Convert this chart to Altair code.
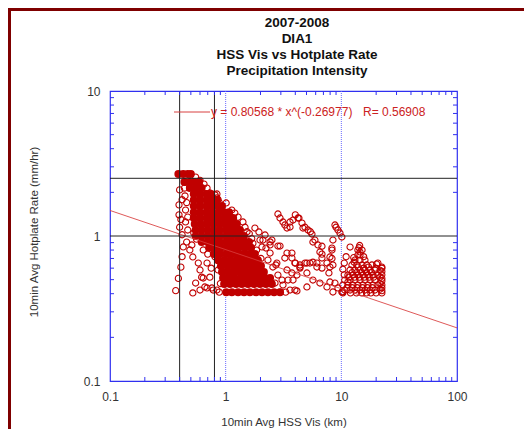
import altair as alt
import pandas as pd

FONT = "Liberation Sans"
RED = "#c00000"
BLUE = "#3030f0"

# ---------------- text ----------------
title_lines = ["2007-2008", "DIA1", "HSS Vis vs Hotplate Rate", "Precipitation Intensity"]
x_title = "10min Avg HSS Vis (km)"
y_title = "10min Avg Hotplate Rate (mm/hr)"
fit_label = "y = 0.80568 * x^(-0.26977)"
r_label = "R= 0.56908"

# ---------------- axes ----------------
x_tick_labels = [0.1, 1, 10, 100]
y_tick_labels = [0.1, 1, 10]
x_minor = [0.2, 0.3, 0.4, 0.5, 0.6, 0.7, 0.8, 0.9, 2, 3, 4, 5, 6, 7, 8, 9,
           20, 30, 40, 50, 60, 70, 80, 90]
y_minor = [0.2, 0.3, 0.4, 0.5, 0.6, 0.7, 0.8, 0.9, 2, 3, 4, 5, 6, 7, 8, 9]

# reference lines
black_vx = [0.4, 0.8]
black_hy = [2.5, 1.0]
blue_vx = [1, 10]

# fitted power law (end points)
fit_x = [0.1, 100]
fit_y = [1.500, 0.2325]

# ---------------- data: dense core (rows of equal rate) ----------------
dense_y = [2.68, 2.36, 2.14, 1.95, 1.77, 1.61, 1.46, 1.33, 1.21, 1.10, 1.00,
           0.91, 0.83, 0.75, 0.68, 0.62, 0.565, 0.513, 0.467, 0.41]
dense_x = [
    [0.39, 0.43, 0.47, 0.50],
    [0.44, 0.49, 0.54, 0.59],
    [0.49, 0.55, 0.62],
    [0.53, 0.60, 0.68, 0.75],
    [0.53, 0.60, 0.68, 0.76, 0.84],
    [0.53, 0.60, 0.68, 0.76, 0.86, 0.93],
    [0.53, 0.60, 0.68, 0.76, 0.86, 0.97, 1.07],
    [0.53, 0.60, 0.68, 0.76, 0.86, 0.97, 1.09, 1.16],
    [0.54, 0.61, 0.69, 0.78, 0.88, 0.99, 1.11, 1.25],
    [0.55, 0.62, 0.70, 0.79, 0.89, 1.01, 1.13, 1.23, 1.33],
    [0.55, 0.62, 0.70, 0.79, 0.89, 1.01, 1.13, 1.28, 1.44],
    [0.62, 0.70, 0.79, 0.89, 1.01, 1.13, 1.28, 1.44, 1.59],
    [0.72, 0.81, 0.91, 1.03, 1.16, 1.30, 1.47, 1.66],
    [0.79, 0.89, 1.01, 1.13, 1.28, 1.44, 1.62, 1.79],
    [0.86, 0.97, 1.09, 1.23, 1.38, 1.56, 1.76, 1.90],
    [0.91, 1.03, 1.16, 1.30, 1.47, 1.66, 1.87, 2.02],
    [0.93, 1.05, 1.18, 1.33, 1.50, 1.69, 1.90, 2.14],
    [0.95, 1.07, 1.20, 1.36, 1.53, 1.72, 1.94, 2.19, 2.42],
    [0.97, 1.09, 1.23, 1.38, 1.56, 1.76, 1.98, 2.23, 2.51],
    [1.01, 1.13, 1.28, 1.44, 1.62, 1.83, 2.06, 2.32, 2.62, 2.95],
]

# ---------------- data: scattered observations ----------------
left_pts = [
    (0.40, 2.08), (0.395, 1.64), (0.395, 1.40), (0.40, 1.15), (0.42, 1.02), (0.43, 0.84),
    (0.42, 0.72), (0.41, 0.61), (0.39, 0.51), (0.37, 0.42),
    (0.44, 2.14), (0.445, 1.89), (0.45, 1.51), (0.45, 1.25), (0.47, 1.10), (0.42, 1.78),
    (0.41, 1.30), (0.46, 1.70), (0.47, 1.35),
    (0.55, 2.55), (0.60, 2.42), (0.65, 2.28), (0.60, 2.18), (0.69, 2.14), (0.73, 1.98),
    (0.81, 1.92), (0.84, 1.95), (0.84, 1.83), (0.86, 1.78), (0.88, 1.70),
    (0.52, 0.405), (0.60, 0.424), (0.69, 0.438), (0.78, 0.424), (0.84, 0.424),
    (0.64, 0.513), (0.60, 0.583), (0.58, 0.651), (0.52, 0.717), (0.49, 0.801),
    (0.46, 0.909), (0.51, 0.867), (0.64, 0.801), (0.69, 0.651), (0.73, 0.52),
    (0.81, 0.717), (0.86, 0.583), (0.66, 0.445), (0.76, 0.438), (0.62, 0.52),
    (0.55, 0.474), (0.88, 0.41), (0.90, 0.47), (0.75, 0.60), (0.70, 0.75),
    (0.56, 0.95), (0.53, 1.05),
]
edge_pts = [
    (1.01, 1.69), (1.13, 1.51), (1.20, 1.44), (1.28, 1.35), (1.41, 1.25), (1.47, 1.15),
    (1.53, 1.07), (1.60, 1.04), (1.68, 0.96), (1.72, 0.89), (1.85, 0.80), (2.02, 0.70),
    (1.79, 1.135), (1.94, 1.066), (2.19, 1.016), (2.51, 0.938), (2.10, 0.938), (2.23, 0.826),
    (2.95, 0.853), (2.42, 0.763), (2.32, 0.683), (2.56, 0.611), (2.42, 0.867), (2.06, 0.84),
    (2.42, 0.91), (2.83, 0.853), (1.98, 0.938),
    (3.25, 0.705), (3.39, 0.583), (3.74, 0.763), (3.74, 0.556), (4.13, 0.538), (4.39, 0.611),
    (5.04, 0.556), (3.82, 0.497), (3.60, 0.424), (4.13, 0.418), (3.07, 0.497), (5.04, 0.445),
    (5.68, 0.497), (6.53, 0.474), (7.51, 0.445), (8.46, 0.411), (9.35, 0.438), (10.1, 0.411),
    (2.83, 0.538), (3.13, 0.459), (2.95, 0.41), (3.30, 0.41), (2.67, 0.474), (2.72, 0.631),
    (3.39, 0.763), (3.97, 0.651), (2.77, 0.651), (3.46, 0.497), (3.97, 0.424),
    (3.74, 0.705), (4.00, 0.651), (4.39, 0.631), (5.04, 0.651), (5.68, 0.66), (6.15, 0.651),
]
loop_pts = [
    (2.83, 1.418), (2.95, 1.331), (3.13, 1.249), (3.25, 1.191), (3.39, 1.135), (3.60, 1.153),
    (3.60, 1.249), (3.82, 1.289), (4.22, 1.331), (4.57, 1.229), (4.66, 1.135), (5.15, 1.100),
    (5.57, 1.032), (5.91, 0.938), (6.28, 0.867), (6.53, 0.776), (6.80, 0.705), (7.51, 0.651),
    (7.97, 0.611), (8.46, 0.631), (6.80, 0.601), (6.15, 0.611), (5.35, 0.651), (4.85, 0.651),
    (4.39, 0.601), (4.00, 1.40), (4.30, 1.33), (4.85, 1.15), (5.40, 1.07), (5.68, 0.909),
    (8.81, 1.191), (9.35, 1.100), (9.73, 1.049), (8.46, 0.938), (8.29, 0.826), (7.97, 0.717),
    (7.81, 0.556), (7.97, 0.482), (8.81, 0.474), (10.1, 0.984), (6.80, 0.85), (6.80, 0.75),
    (8.30, 0.80), (8.30, 0.70), (9.00, 1.15),
]
cluster_pts = [
    (11.9, 0.839), (13.9, 0.80), (14.5, 0.776), (15.1, 0.80), (14.5, 0.74), (13.9, 0.74),
    (14.2, 0.83), (14.4, 0.86), (12.8, 0.71), (15.6, 0.72),
    (13.1, 0.683), (14.5, 0.683), (16.0, 0.683),
    (12.35, 0.631), (13.6, 0.631), (15.1, 0.631), (16.6, 0.631), (18.4, 0.631),
    (11.9, 0.583), (13.1, 0.583), (14.5, 0.583), (16.0, 0.583), (17.7, 0.583), (19.5, 0.583),
    (11.4, 0.538), (12.6, 0.538), (13.9, 0.538), (15.4, 0.538), (17.0, 0.538), (18.8, 0.538),
    (20.7, 0.538),
    (10.7, 0.497), (11.9, 0.497), (13.1, 0.497), (14.5, 0.497), (16.0, 0.497), (17.7, 0.497),
    (19.5, 0.497),
    (10.3, 0.459), (11.4, 0.459), (12.6, 0.459), (13.9, 0.459), (15.4, 0.459), (17.0, 0.459),
    (18.8, 0.459), (20.7, 0.459),
    (10.7, 0.424), (11.9, 0.424), (13.1, 0.424), (14.5, 0.424), (16.0, 0.424), (17.7, 0.424),
    (19.5, 0.424),
    (10.3, 0.405), (12.0, 0.405), (13.5, 0.405), (15.0, 0.405), (16.5, 0.405), (18.0, 0.405),
    (20.0, 0.405),
    (22.4, 0.60), (22.4, 0.57), (22.4, 0.54), (22.4, 0.51), (22.4, 0.49), (22.4, 0.46),
    (22.4, 0.44), (22.4, 0.42), (22.4, 0.405),
    (21.6, 0.58), (21.6, 0.52), (21.6, 0.47), (21.6, 0.43),
    (20.7, 0.651), (22.4, 0.611), (11.4, 0.482), (10.3, 0.411), (10.6, 0.651), (10.3, 0.59),
    (10.6, 0.54), (11.0, 0.72),
    (12.9, 0.66), (14.0, 0.61), (15.6, 0.60), (17.2, 0.61), (12.4, 0.56), (13.6, 0.56),
    (15.0, 0.56), (16.5, 0.56), (18.2, 0.56), (11.6, 0.52), (13.0, 0.52), (14.3, 0.52),
    (15.8, 0.52), (17.4, 0.52), (19.0, 0.52), (11.2, 0.44), (12.4, 0.44), (13.7, 0.44),
    (15.2, 0.44), (16.8, 0.44), (18.5, 0.44), (19.8, 0.60), (20.2, 0.64),
]

# ---------------- frames ----------------
core_df = pd.DataFrame(
    [{"x": xv, "y": yv} for yv, xs in zip(dense_y, dense_x) for xv in xs]
)
sparse_df = pd.DataFrame(
    [{"x": p[0], "y": p[1]} for p in left_pts + edge_pts + loop_pts + cluster_pts]
)
fit_df = pd.DataFrame({"x": fit_x, "y": fit_y})
one = pd.DataFrame({"a": [0]})

W, H = 347, 290
PL, PT = 102, 83
TW, TH = 516, 421

x_scale = alt.Scale(type="log", domain=[0.1, 100], nice=False)
y_scale = alt.Scale(type="log", domain=[0.1, 10], nice=False)

x_axis = alt.Axis(values=x_tick_labels, format="~g", domain=False, ticks=False, tickSize=0,
                  grid=False, labelFont=FONT, labelFontSize=12, labelColor="#333333",
                  labelPadding=10, labelFlush=False, labelOverlap=False, title=None)
y_axis = alt.Axis(values=y_tick_labels, format="~g", domain=False, ticks=False, tickSize=0,
                  grid=False, labelFont=FONT, labelFontSize=12, labelColor="#333333",
                  labelPadding=10, labelFlush=False, labelOverlap=False, title=None)


def X(field):
    return alt.X(field, scale=x_scale, axis=x_axis)


def Y(field):
    return alt.Y(field, scale=y_scale, axis=y_axis)


layers = []

# blue dotted guides (under the points)
layers.append(
    alt.Chart(pd.DataFrame({"v": blue_vx})).mark_rule(
        color="#6a6aff", strokeWidth=1, strokeDash=[1, 1]
    ).encode(x=X("v:Q"))
)

# points
layers.append(
    alt.Chart(core_df).mark_circle(size=64, color=RED, opacity=1).encode(
        x=X("x:Q"), y=Y("y:Q")
    )
)
layers.append(
    alt.Chart(sparse_df).mark_point(shape="circle", filled=False, size=38, strokeWidth=1.1,
                                    color=RED, opacity=1).encode(
        x=X("x:Q"), y=Y("y:Q")
    )
)

# fit line
layers.append(
    alt.Chart(fit_df).mark_line(color="#d83c3c", strokeWidth=1, opacity=0.85).encode(
        x=X("x:Q"), y=Y("y:Q")
    )
)

# black reference lines
layers.append(
    alt.Chart(pd.DataFrame({"v": black_vx})).mark_rule(color="#222222", strokeWidth=1).encode(
        x=X("v:Q")
    )
)
layers.append(
    alt.Chart(pd.DataFrame({"v": black_hy})).mark_rule(color="#222222", strokeWidth=1).encode(
        y=Y("v:Q")
    )
)

# minor ticks, inward, on all four sides
xm = pd.DataFrame({"v": x_minor})
ym = pd.DataFrame({"v": y_minor})
for y0, y1 in [(H, H - 4), (0, 4)]:
    layers.append(
        alt.Chart(xm).mark_rule(color=BLUE, strokeWidth=1).encode(
            x=X("v:Q"), y=alt.value(y0), y2=alt.value(y1)
        )
    )
for x0, x1 in [(0, 4), (W, W - 4)]:
    layers.append(
        alt.Chart(ym).mark_rule(color=BLUE, strokeWidth=1).encode(
            y=Y("v:Q"), x=alt.value(x0), x2=alt.value(x1)
        )
    )

# legend
layers.append(
    alt.Chart(one).mark_rule(color="#d84040", strokeWidth=1).encode(
        x=alt.value(64), x2=alt.value(100), y=alt.value(21)
    )
)
layers.append(
    alt.Chart(one).mark_text(font=FONT, fontSize=12, color="#cc2222", align="left",
                             baseline="middle").encode(
        x=alt.value(101), y=alt.value(21), text=alt.value(fit_label)
    )
)
layers.append(
    alt.Chart(one).mark_text(font=FONT, fontSize=12, color="#cc2222", align="left",
                             baseline="middle").encode(
        x=alt.value(253), y=alt.value(21), text=alt.value(r_label)
    )
)

# titles
for i, line in enumerate(title_lines):
    layers.append(
        alt.Chart(one).mark_text(font=FONT, fontSize=13.5, fontWeight="bold", color="#111111",
                                 align="center", baseline="middle").encode(
            x=alt.value(187), y=alt.value(-68 + 16 * i), text=alt.value(line)
        )
    )
layers.append(
    alt.Chart(one).mark_text(font=FONT, fontSize=11.5, color="#333333", align="center",
                             baseline="middle").encode(
        x=alt.value(174), y=alt.value(332), text=alt.value(x_title)
    )
)
layers.append(
    alt.Chart(one).mark_text(font=FONT, fontSize=11.5, color="#333333", align="center",
                             baseline="middle", angle=270).encode(
        x=alt.value(-75), y=alt.value(141), text=alt.value(y_title)
    )
)

# dark red page frame (top and left)
layers.append(
    alt.Chart(one).mark_rule(color="#7f0000", strokeWidth=3).encode(
        x=alt.value(-PL + 1.5), y=alt.value(-PT), y2=alt.value(TH - PT)
    )
)
layers.append(
    alt.Chart(one).mark_rule(color="#7f0000", strokeWidth=3).encode(
        x=alt.value(-PL), x2=alt.value(TW - PL), y=alt.value(-PT + 1.5)
    )
)

chart = alt.layer(*layers).properties(
    width=W,
    height=H,
    autosize=alt.AutoSizeParams(type="none"),
    padding={"left": PL, "top": PT, "right": TW - PL - W, "bottom": TH - PT - H},
    background="white",
).configure_view(stroke=BLUE, strokeWidth=1.2)

chart.save("out.html", embed_options={"renderer": "svg", "actions": False})
